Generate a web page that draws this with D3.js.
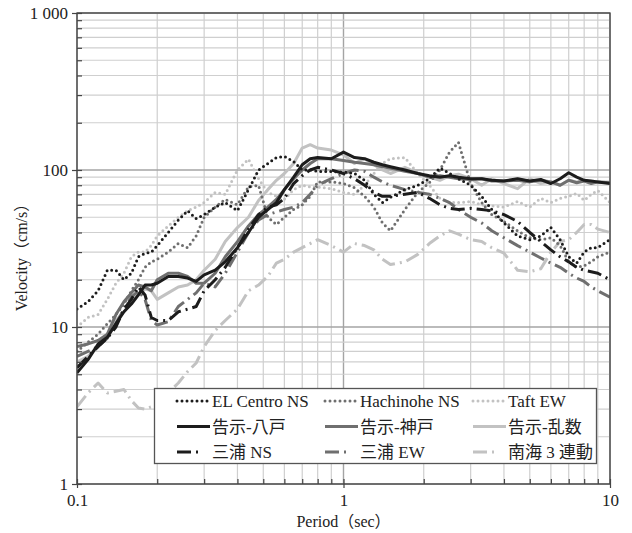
<!DOCTYPE html>
<html>
<head>
<meta charset="utf-8">
<script src="https://cdn.jsdelivr.net/npm/d3@7"></script>
<style>
  body { margin: 0; background: #fff; }
  svg text { font-family: "Liberation Serif", "Times New Roman", "Noto Sans CJK JP", serif; fill: #222; }
</style>
</head>
<body>
<div id="chart"></div>
<script>
// periods (sec) shared by every series
const periods = [0.10, 0.11, 0.12, 0.13, 0.14, 0.15, 0.16, 0.17, 0.18, 0.19,
  0.20, 0.22, 0.24, 0.26, 0.28, 0.30, 0.33, 0.36, 0.40, 0.44,
  0.48, 0.52, 0.56, 0.60, 0.65, 0.70, 0.75, 0.80, 0.90, 1.0,
  1.1, 1.2, 1.3, 1.4, 1.5, 1.7, 1.9, 2.1, 2.3, 2.5,
  2.7, 3.0, 3.3, 3.6, 4.0, 4.5, 5.0, 5.5, 6.0, 6.5,
  7.0, 7.5, 8.0, 8.5, 9.0, 10];

const elCentroNS = [13, 14.5, 17, 23, 23, 20, 22, 28, 29.5, 30,
  33, 40, 48, 55, 49, 52, 58, 62, 55, 75,
  100, 110, 120, 122, 113, 100, 100, 98, 98, 97,
  95, 86, 70, 62, 67, 75, 80, 88, 103, 95,
  88, 80, 68, 56, 46, 38, 36, 38, 43, 36,
  28, 25.5, 30, 32, 32, 36];
const hachinoheNS = [7, 8, 9, 10.5, 12, 14, 17, 20, 24, 26,
  27, 30, 34, 32, 38, 50, 58, 65, 60, 78,
  80, 50, 45, 50, 56, 60, 68, 84, 84, 82,
  77, 68, 58, 46, 41, 56, 72, 83, 100, 130,
  150, 82, 62, 52, 47, 41, 37, 36, 37, 33,
  26, 24, 24.5, 26, 28, 30];
const taftEW = [10, 11.5, 12, 15, 19, 22, 28, 30, 30, 33,
  38, 44, 50, 55, 58, 62, 72, 70, 100, 117,
  88, 72, 68, 65, 75, 80, 78, 78, 76, 72,
  70, 80, 95, 110, 118, 120, 95, 80, 66, 62,
  62, 63, 60, 59, 58, 63, 58, 66, 62, 66,
  68, 71, 64, 70, 74, 62];
const kokujiHachinohe = [5.1, 6.2, 7.8, 8.6, 10.5, 12.5, 14, 16, 18.5, 18.5,
  19, 21, 21, 20.5, 19.5, 21.5, 23, 26, 32, 40,
  50, 56, 62, 75, 90, 108, 118, 120, 118, 130,
  120, 118, 112, 108, 105, 100, 95, 92, 90, 92,
  90, 88, 88, 86, 85, 88, 85, 87, 82, 88,
  96, 90, 86, 85, 84, 82];
const kokujiKobe = [7.5, 7.8, 8.2, 9, 12, 14.5, 16.5, 18.5, 18, 17,
  20, 22, 22, 21, 19, 19, 22, 28, 35, 44,
  52, 58, 65, 75, 88, 100, 110, 118, 118, 115,
  112, 110, 108, 105, 103, 98, 95, 90, 92, 90,
  88, 87, 88, 85, 85, 86, 84, 86, 84, 80,
  86, 83, 85, 82, 84, 83];
const kokujiRandom = [6, 6.5, 7.5, 9, 11, 12.5, 14.5, 16, 17.5, 17,
  15, 16.5, 18, 18.5, 20, 23, 27, 35, 43, 50,
  64, 75, 86, 95, 110, 138, 145, 138, 134, 125,
  110, 118, 108, 100, 95, 104, 96, 90, 86, 92,
  94, 88, 80, 88, 82, 76, 88, 82, 84, 80,
  86, 84, 86, 83, 84, 84];
const miuraNS = [5.5, 6.5, 7.5, 8.5, 10, 13, 15, 18, 16, 11.5,
  11, 11, 12.5, 13, 13.5, 17, 20, 24, 32, 42,
  52, 58, 60, 66, 82, 92, 100, 104, 100, 95,
  88, 80, 72, 68, 68, 70, 72, 66, 60, 57,
  56, 57, 56, 55, 52, 47, 40, 35, 31, 28,
  26, 24, 23, 22.5, 22, 20];
const miuraEW = [6.5, 7, 7.5, 8.5, 10.5, 13, 15.5, 17, 15, 11,
  10.3, 10.8, 13.5, 15, 16.5, 19, 18, 22, 30, 40,
  48, 52, 54, 56, 58, 62, 70, 80, 88, 95,
  100, 98, 90, 84, 80, 75, 72, 70, 66, 62,
  56, 50, 46, 41, 37, 33, 30, 27.5, 25.5, 24,
  22, 20.5, 19.5, 18, 17, 15.5];
const nankai3 = [3.1, 3.8, 4.4, 3.8, 3.9, 4.0, 3.4, 3.05, 3.0, 3.1,
  3.3, 3.8, 4.4, 5.2, 5.9, 7.5, 9.5, 11, 13, 17,
  18.5, 21, 25.5, 27, 30, 32, 34, 36, 33, 30,
  34, 33, 31, 27, 25, 26, 29, 34, 38, 41,
  39, 36, 35, 32, 29.5, 23, 22.5, 23.5, 30, 35,
  36, 40, 45, 45, 42, 40];

const seriesNames = ["EL Centro NS", "Hachinohe NS", "Taft EW",
  "告示-八戸", "告示-神戸", "告示-乱数",
  "三浦 NS", "三浦 EW", "南海 3 連動"];
const seriesValues = [elCentroNS, hachinoheNS, taftEW,
  kokujiHachinohe, kokujiKobe, kokujiRandom,
  miuraNS, miuraEW, nankai3];
const xTickLabels = ["0.1", "1", "10"];
const yTickLabels = ["1", "10", "100", "1 000"];

const black = "#1c1c1c", dark = "#6f6f6f", light = "#c2c2c2";
const styles = [
  { color: black, dash: "0,5", cap: "round", len: 32 },
  { color: dark, dash: "0,5", cap: "round", len: 32 },
  { color: light, dash: "0,5", cap: "round", len: 32 },
  { color: black, dash: null, cap: "butt", len: 33 },
  { color: dark, dash: null, cap: "butt", len: 33 },
  { color: light, dash: null, cap: "butt", len: 33 },
  { color: black, dash: "14,5,2,5", cap: "butt", len: 23 },
  { color: dark, dash: "14,5,2,5", cap: "butt", len: 23 },
  { color: light, dash: "14,5,2,5", cap: "butt", len: 23 }
];

const W = 632, H = 533;
const padL = 77, padR = 610, padT = 13, padB = 484;
const serif = '"Liberation Serif", "Times New Roman", "Noto Sans CJK JP", serif';

const x = d3.scaleLog().domain([0.1, 10]).range([padL, padR]);
const y = d3.scaleLog().domain([1, 1000]).range([padB, padT]);

const svg = d3.select("#chart").append("svg")
  .attr("width", W).attr("height", H);

const isMajor = v => Math.abs(Math.log10(v) - Math.round(Math.log10(v))) < 1e-9;

// grid
const grid = svg.append("g");
x.ticks().forEach(v => {
  grid.append("line")
    .attr("x1", x(v)).attr("x2", x(v)).attr("y1", padT).attr("y2", padB)
    .attr("stroke", isMajor(v) ? "#a4a4a4" : "#cfcfcf")
    .attr("stroke-width", isMajor(v) ? 1.4 : 1.2);
});
y.ticks().forEach(v => {
  grid.append("line")
    .attr("y1", y(v)).attr("y2", y(v)).attr("x1", padL).attr("x2", padR)
    .attr("stroke", isMajor(v) ? "#a4a4a4" : "#cfcfcf")
    .attr("stroke-width", isMajor(v) ? 1.4 : 1.2);
});

// series
svg.append("clipPath").attr("id", "plot")
  .append("rect").attr("x", padL).attr("y", padT)
  .attr("width", padR - padL).attr("height", padB - padT);

const line = d3.line().x(d => x(d[0])).y(d => y(d[1]));
const lines = svg.append("g").attr("clip-path", "url(#plot)");
// light ones first so darker sit on top
[8, 5, 2, 7, 4, 1, 6, 3, 0].forEach(i => {
  const st = styles[i];
  lines.append("path")
    .datum(periods.map((p, j) => [p, seriesValues[i][j]]))
    .attr("d", line)
    .attr("fill", "none")
    .attr("stroke", st.color)
    .attr("stroke-width", 3)
    .attr("stroke-linecap", st.cap)
    .attr("stroke-linejoin", "round")
    .attr("stroke-dasharray", st.dash);
});

// frame
svg.append("rect")
  .attr("x", padL).attr("y", padT)
  .attr("width", padR - padL).attr("height", padB - padT)
  .attr("fill", "none").attr("stroke", "#444").attr("stroke-width", 1.3);

// axes
const xMinor = d3.axisBottom(x).tickValues(x.ticks()).tickSize(-5).tickFormat("");
const yMinor = d3.axisLeft(y).tickValues(y.ticks()).tickSize(-5).tickFormat("");
svg.append("g").attr("transform", `translate(0,${padB})`).call(xMinor);
svg.append("g").attr("transform", `translate(${padL},0)`).call(yMinor);

const xMajor = d3.axisBottom(x).tickValues([0.1, 1, 10]).tickSize(4).tickPadding(6)
  .tickFormat((d, i) => xTickLabels[i]);
const yMajor = d3.axisLeft(y).tickValues([1, 10, 100, 1000]).tickSize(5).tickPadding(4)
  .tickFormat((d, i) => yTickLabels[i]);
svg.append("g").attr("transform", `translate(0,${padB})`).call(xMajor);
svg.append("g").attr("transform", `translate(${padL},0)`).call(yMajor);

svg.selectAll(".domain").remove();
svg.selectAll("g").attr("font-family", null);
svg.selectAll(".tick line").attr("stroke", "#444").attr("stroke-width", 1.2);
svg.selectAll(".tick text").style("font-size", "17px")
  .style("font-family", serif).attr("fill", "#222");

// axis titles
svg.append("text")
  .attr("x", (padL + padR) / 2).attr("y", 527)
  .attr("text-anchor", "middle").style("font-size", "16px").style("font-family", serif)
  .text("Period（sec）");
svg.append("text")
  .attr("transform", `translate(27,${(padT + padB) / 2 + 5}) rotate(-90)`)
  .attr("text-anchor", "middle").style("font-size", "16px").style("font-family", serif)
  .text("Velocity（cm/s）");

// legend
const legend = svg.append("g");
legend.append("rect")
  .attr("x", 154.5).attr("y", 388.5).attr("width", 442).attr("height", 75)
  .attr("fill", "#fff").attr("stroke", "#555").attr("stroke-width", 1.3);
const colX = [177, 325, 473];
const rowY = [401, 426.5, 452];
seriesNames.forEach((name, i) => {
  const c = i % 3, r = Math.floor(i / 3);
  const st = styles[i];
  const x0 = colX[c];
  legend.append("line")
    .attr("x1", x0).attr("x2", x0 + st.len)
    .attr("y1", rowY[r]).attr("y2", rowY[r])
    .attr("stroke", st.color).attr("stroke-width", 3)
    .attr("stroke-linecap", st.cap)
    .attr("stroke-dasharray", st.dash);
  legend.append("text")
    .attr("x", x0 + 35).attr("y", rowY[r] + 6)
    .style("font-size", "17px").style("font-family", serif)
    .text(name);
});
</script>
</body>
</html>
